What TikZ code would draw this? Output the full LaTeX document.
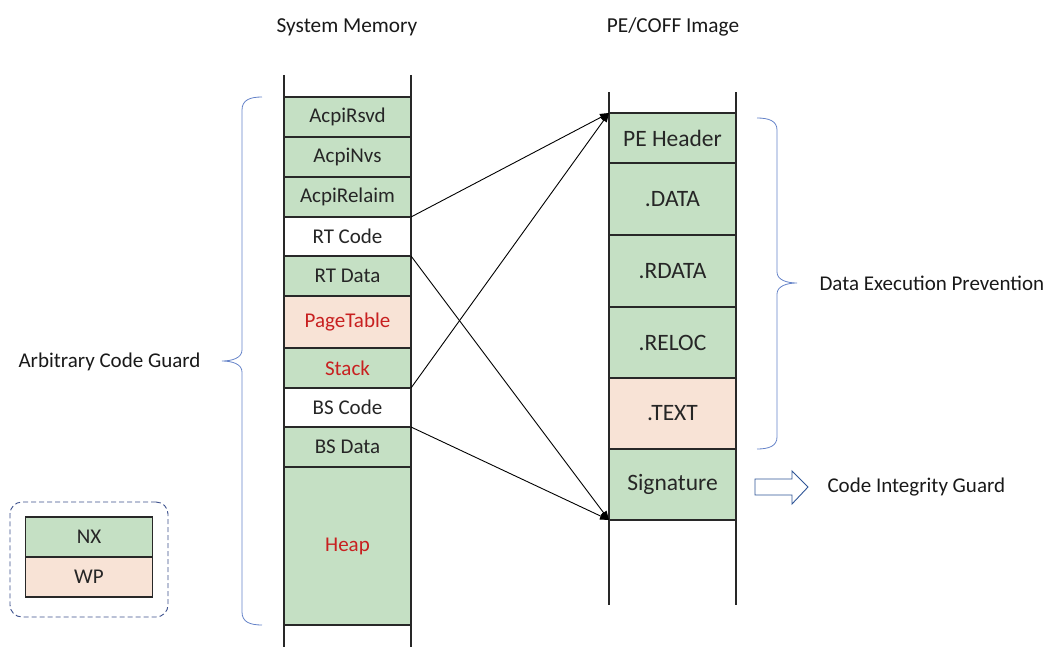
\documentclass[tikz,border=0pt]{standalone}
\usepackage{fontspec}
\setmainfont{Carlito}
\usetikzlibrary{arrows.meta}
\definecolor{nxgreen}{RGB}{197,224,196}
\definecolor{wppeach}{RGB}{248,227,214}
\definecolor{redtxt}{RGB}{200,32,32}
\definecolor{bracecol}{RGB}{100,130,200}
\definecolor{linecol}{RGB}{40,40,40}
\definecolor{legendcol}{RGB}{60,80,140}
\definecolor{arrowblue}{RGB}{47,85,151}
\tikzset{
  cell/.style={draw=linecol, line width=1.2pt, minimum width=127pt, inner sep=0pt, outer sep=0pt,
    font=\fontsize{21}{24}\selectfont, anchor=north, text=black!85},
  bigcell/.style={cell, font=\fontsize{23.5}{26}\selectfont},
  nxcell/.style={fill=nxgreen},
  wpcell/.style={fill=wppeach},
  plaincell/.style={fill=white},
  redlabel/.style={text=redtxt},
  rail/.style={draw=linecol, line width=1.2pt},
  conn/.style={draw=black, line width=0.9pt, -{Triangle[length=9pt,width=7pt]}},
  brace/.style={draw=bracecol, line width=0.8pt},
  sidelabel/.style={font=\fontsize{21}{24}\selectfont, text=black!90, anchor=west},
  title/.style={font=\fontsize{21.3}{24}\selectfont, text=black!90},
}
\begin{document}
\begin{tikzpicture}[x=1pt,y=-1pt]
\useasboundingbox (0,0) rectangle (1055,661);
% titles
\node[title] (tsys) at (347,27) {System Memory};
\node[title] (tpe) at (673,27) {PE/COFF Image};
% rails
\draw[rail] (284,75) -- (284,647);
\draw[rail] (411,75) -- (411,647);
\draw[rail] (609,92) -- (609,605);
\draw[rail] (736,92) -- (736,605);
% left column
\node[cell,nxcell,minimum height=40pt] (acpirsvd) at (347.5,97) {AcpiRsvd};
\node[cell,nxcell,minimum height=40pt] (acpinvs) at (347.5,137) {AcpiNvs};
\node[cell,nxcell,minimum height=40pt] (acpirel) at (347.5,177) {AcpiRelaim};
\node[cell,plaincell,minimum height=39pt] (rtcode) at (347.5,217) {RT Code};
\node[cell,nxcell,minimum height=40pt] (rtdata) at (347.5,256) {RT Data};
\node[cell,wpcell,redlabel,minimum height=52pt] (pagetable) at (347.5,296) {PageTable};
\node[cell,nxcell,redlabel,minimum height=40pt] (stack) at (347.5,348) {Stack};
\node[cell,plaincell,minimum height=39pt] (bscode) at (347.5,388) {BS Code};
\node[cell,nxcell,minimum height=40pt] (bsdata) at (347.5,427) {BS Data};
\node[cell,nxcell,redlabel,minimum height=158pt] (heap) at (347.5,467) {Heap};
% right column
\node[bigcell,nxcell,minimum height=50pt] (pehdr) at (672.5,113) {PE Header};
\node[bigcell,nxcell,minimum height=72pt] (data) at (672.5,163) {.DATA};
\node[bigcell,nxcell,minimum height=72pt] (rdata) at (672.5,235) {.RDATA};
\node[bigcell,nxcell,minimum height=71pt] (reloc) at (672.5,307) {.RELOC};
\node[bigcell,wpcell,minimum height=71pt] (text) at (672.5,378) {.TEXT};
\node[bigcell,nxcell,minimum height=71pt] (sig) at (672.5,449) {Signature};
% connectors
\draw[conn] (rtcode.north east) -- (pehdr.north west);
\draw[conn] (bscode.north east) -- (pehdr.north west);
\draw[conn] (rtcode.south east) -- (sig.south west);
\draw[conn] (bscode.south east) -- (sig.south west);
% left brace
\coordinate (lbtip) at (222,361);
\draw[brace] (262,97) .. controls (250,97) and (242,100) .. (242,110) -- (242,350)
  .. controls (242,358) and (232,361) .. (lbtip)
  .. controls (232,361) and (242,364) .. (242,372) -- (242,612)
  .. controls (242,622) and (250,625) .. (262,625);
\node[sidelabel] (acg) at (15,362) {Arbitrary Code Guard};
% right brace
\coordinate (rbtip) at (797,283);
\draw[brace] (757,118) .. controls (769,118) and (777,121) .. (777,130) -- (777,272)
  .. controls (777,280) and (787,283) .. (rbtip)
  .. controls (787,283) and (777,286) .. (777,294) -- (777,437)
  .. controls (777,446) and (769,449) .. (757,449);
\node[sidelabel] (dep) at (816,283) {Data Execution Prevention};
% hollow arrow
\draw[draw=arrowblue, line width=0.9pt, fill=white]
  (755,479) -- (792,479) -- (792,471) -- (808,487) -- (792,504) -- (792,495) -- (755,495) -- cycle;
\node[sidelabel] (cig) at (824,487) {Code Integrity Guard};
% legend
\node[draw=legendcol, line width=0.9pt, dash pattern=on 5pt off 3pt, rounded corners=12pt,
  minimum width=158pt, minimum height=115pt, inner sep=0pt] (legend) at (89,559.5) {};
\node[cell,nxcell,minimum height=40pt] (nx) at (89,517) {NX};
\node[cell,wpcell,minimum height=40pt] (wp) at (89,557) {WP};
\end{tikzpicture}
\end{document}
